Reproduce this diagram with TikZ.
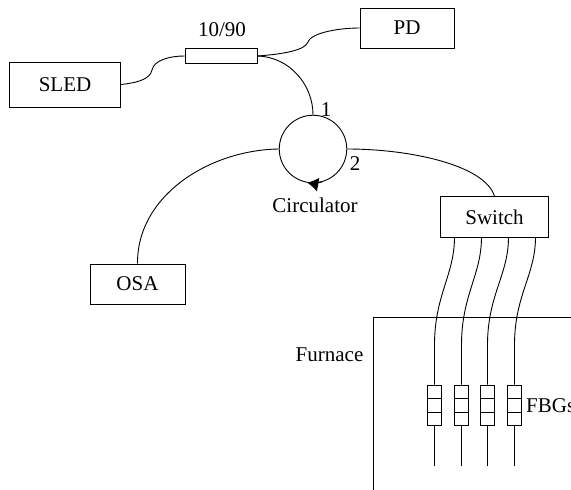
\documentclass[tikz,border=0pt]{standalone}
\usepackage{fontspec}
\setmainfont{Liberation Serif}
\usetikzlibrary{arrows.meta}

\begin{document}
\begin{tikzpicture}[
    x=1pt,y=-1pt,
    every node/.style={font=\fontsize{21}{24}\selectfont},
    device/.style={rectangle,draw,fill=white,inner sep=0pt,line width=0.9pt},
    grating/.style={rectangle,draw,fill=white,inner sep=0pt,line width=0.9pt,minimum width=14pt,minimum height=13.7pt},
    fibre/.style={line width=0.9pt}
    ]

    \useasboundingbox (0,0) rectangle (571,490);

    \node (sled) [device,minimum width=111pt,minimum height=45pt] at (65,84.5) {SLED};
    \node (coupler) [device,minimum width=72pt,minimum height=15pt] at (221,56) {};
    \node (pd) [device,minimum width=94pt,minimum height=40pt] at (407,28) {PD};
    \node (circ) [circle,draw,inner sep=0pt,minimum size=67.5pt,line width=0.9pt] at (313,149) {};
    \node (switch) [device,minimum width=108pt,minimum height=40.5pt] at (494.5,217) {Switch};
    \node (osa) [device,minimum width=95pt,minimum height=40pt] at (137.5,284) {OSA};

    \node (split) at (222,30) {10/90};
    \node (port1) at (326,110) {1};
    \node (port2) at (355,164) {2};
    \node (circname) at (315,205) {Circulator};
    \node (furnace) at (329.5,355) {Furnace};
    \node (fbgs) [anchor=west,inner sep=0pt] at (526,406) {FBGs};

    \draw[line width=0.9pt] (571,317) -- (373,317) -- (373,490);

    \draw[fibre] (sled.east) .. controls (135,83) and (150,80) .. (152,70)
      .. controls (154,60) and (170,56) .. (coupler.west);
    \draw[fibre] (coupler.east) .. controls (285,54) and (305,50) .. (308,42)
      .. controls (310,34) and (335,28) .. (pd.west);
    \draw[fibre] (coupler.east) .. controls (290,57) and (313,85) .. (circ.north);
    \draw[fibre] (circ.east) .. controls (410,149) and (485,165) .. (switch.north);
    \draw[fibre] (circ.west) .. controls (210,150) and (137,195) .. (osa.north);

    \draw[line width=0.9pt,-{Latex[length=11pt,width=14pt]}] (circ.-75) arc[start angle=-75,end angle=-100,radius=33.75pt];

    \foreach \x/\sx/\fx in {0/454.5/434.5,1/481.5/461.5,2/508.5/487.5,3/535.5/514.5}{
      \coordinate (top\x) at (\sx,237);
      \coordinate (end\x) at (\fx,466);
      \node (fbg\x) [grating] at (\fx,392) {};
      \node (fbgm\x) [grating] at (\fx,405.5) {};
      \node (fbgb\x) [grating] at (\fx,419) {};
      \draw[fibre] (top\x) .. controls (\sx,275) and (\fx,295) .. (\fx,345) -- (fbg\x.north);
      \draw[fibre] (fbgb\x.south) -- (end\x);
    }

  \end{tikzpicture}
\end{document}
